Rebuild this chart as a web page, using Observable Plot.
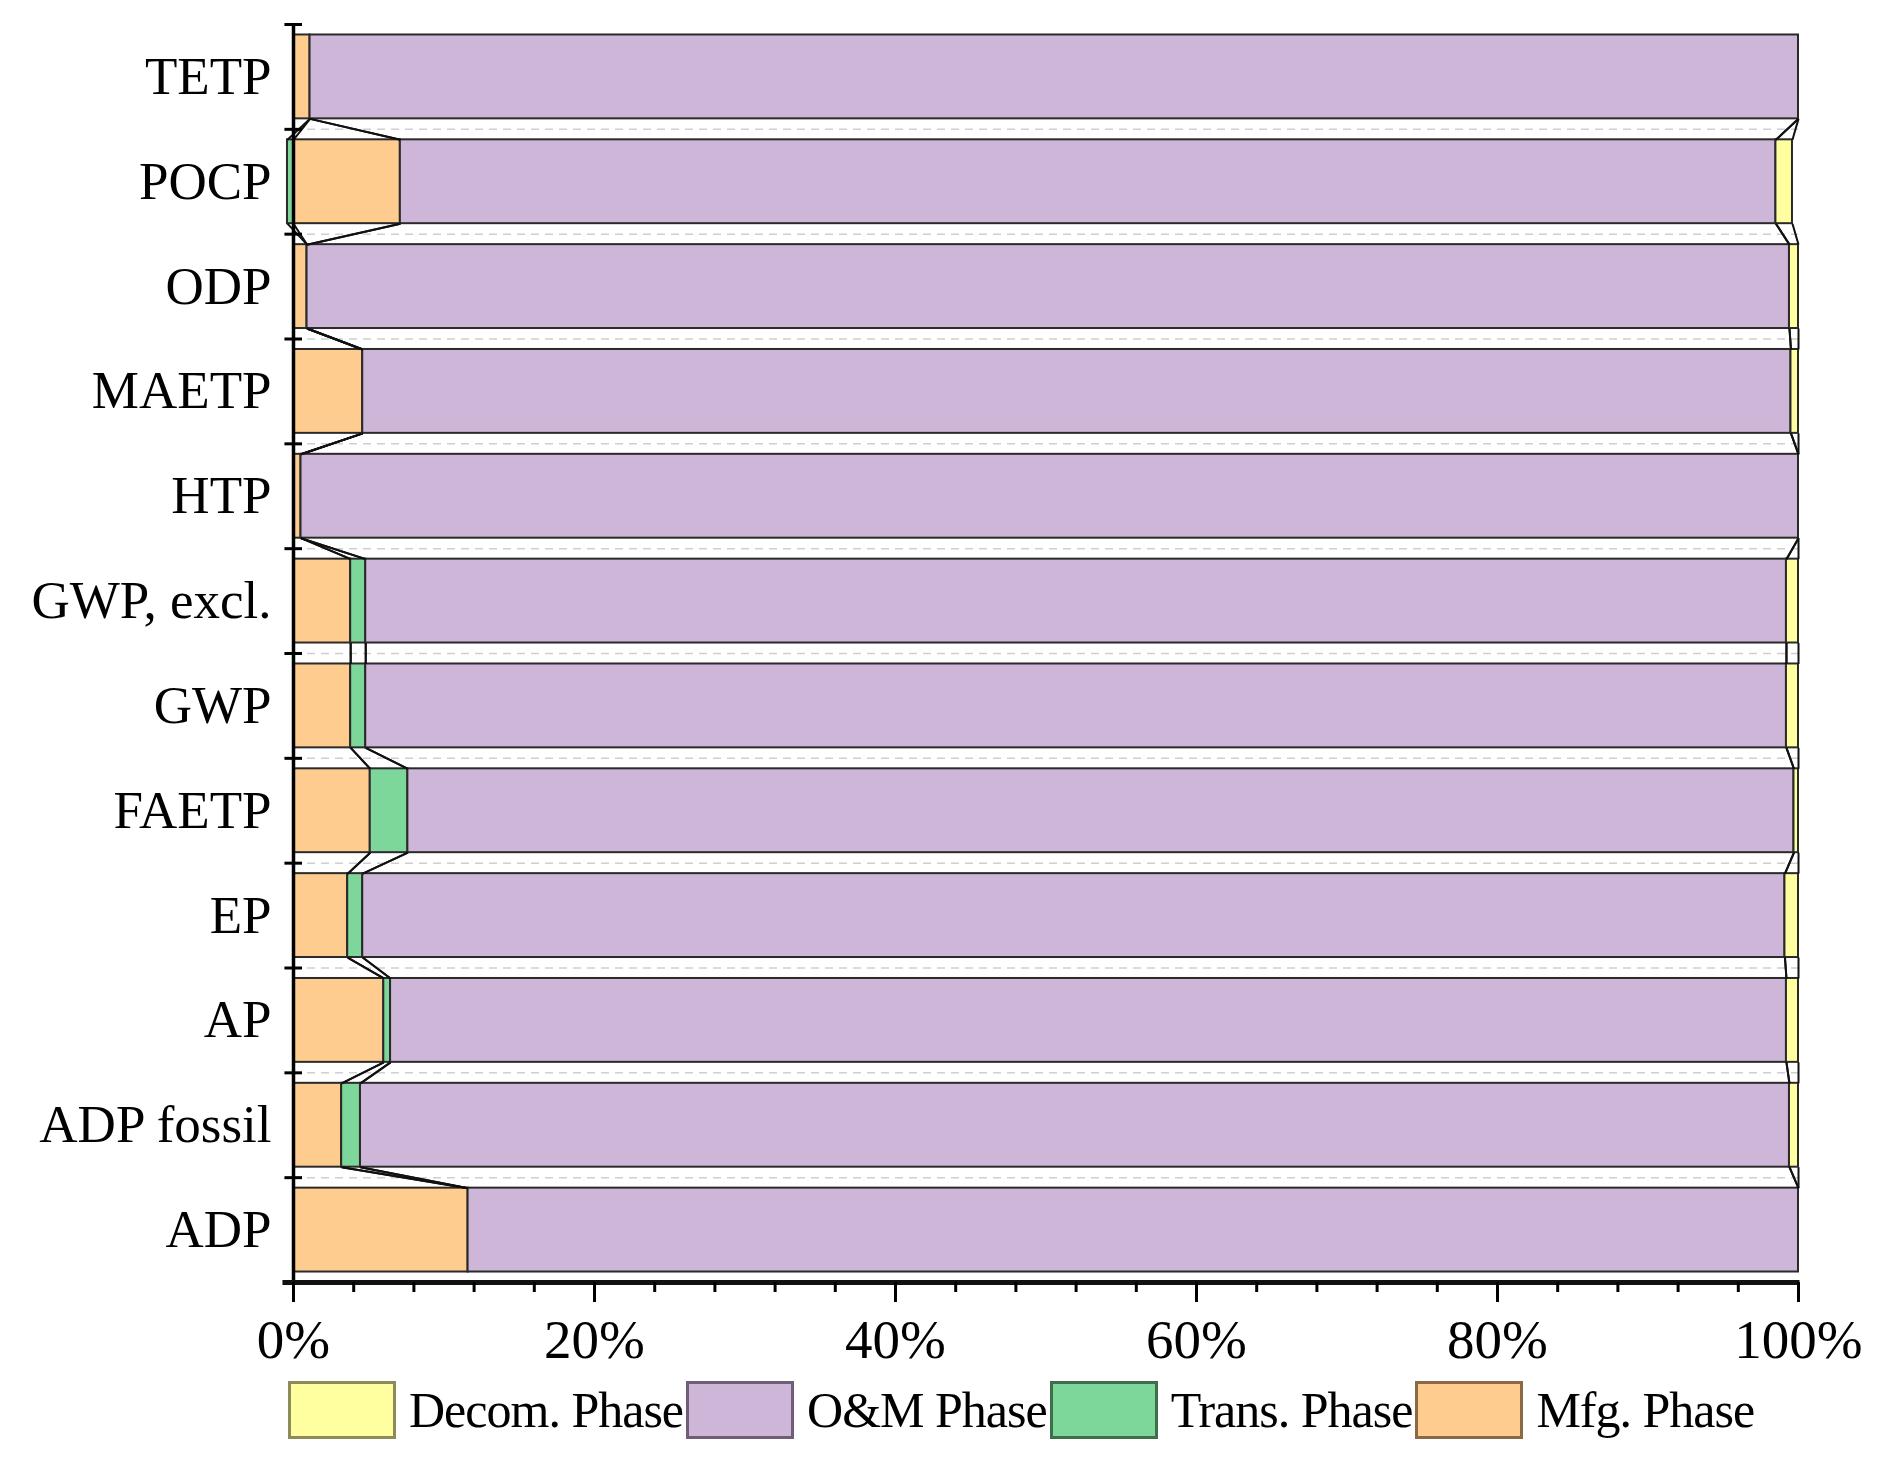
<!DOCTYPE html>
<html>
<head>
<meta charset="utf-8">
<script src="https://cdn.jsdelivr.net/npm/d3@7"></script>
<script src="https://cdn.jsdelivr.net/npm/@observablehq/plot@0.6"></script>
<style>
  html, body { margin: 0; padding: 0; background: #fff; }
  #wrap { position: relative; width: 1878px; height: 1472px; font-family: "Liberation Serif", "Times New Roman", serif; }
  #legend { position: absolute; left: 288px; top: 1381px; display: flex; align-items: center; }
  .sw { width: 108px; height: 58px; box-sizing: border-box; border: 3px solid #555; }
  .lt { font-size: 50px; line-height: 1; letter-spacing: -1px; margin-left: 13px; margin-right: 3px; color: #000; white-space: nowrap; }
</style>
</head>
<body>
<div id="wrap">
  <div id="chart"></div>
  <div id="legend"></div>
</div>
<script>
// ---- data (percent of life-cycle impact), top to bottom ----
const categories = ["TETP", "POCP", "ODP", "MAETP", "HTP", "GWP, excl.", "GWP", "FAETP", "EP", "AP", "ADP fossil", "ADP"];
const mfg   = [1.1, 7.1, 0.9, 4.6, 0.5, 3.8, 3.8, 5.1, 3.6, 6.0, 3.2, 11.6];
const trans = [0.0, -0.4, 0.0, 0.0, 0.0, 1.0, 1.0, 2.5, 1.0, 0.45, 1.25, 0.0];
const om    = [98.9, 91.4, 98.5, 94.9, 99.5, 94.4, 94.4, 92.1, 94.5, 92.75, 94.95, 88.4];
const decom = [0.0, 1.1, 0.6, 0.5, 0.0, 0.8, 0.8, 0.3, 0.9, 0.8, 0.6, 0.0];

const seriesNames = ["Mfg. Phase", "Trans. Phase", "O&M Phase", "Decom. Phase"];
const seriesValues = [mfg, trans, om, decom];
const seriesColors = ["#FFCC8F", "#7ED79A", "#CEB6D9", "#FFFF9F"];
const seriesBorders = ["#8a6a45", "#3e6e4c", "#6e5e78", "#8c8c5a"];
const legendOrder = ["Decom. Phase", "O&M Phase", "Trans. Phase", "Mfg. Phase"];
const xTicks = [0, 20, 40, 60, 80, 100];
const xMinorTicks = d3.range(0, 101, 4);

// ---- build stacked segments ----
const n = categories.length;
const pad = 0.1;
const segs = [];   // drawable rects
const edges = [];  // per category per series: {x1, x2}
categories.forEach((c, i) => {
  const k = n - 1 - i; // band [k, k+1], top category highest
  let pos = 0, neg = 0;
  edges[i] = [];
  seriesValues.forEach((vals, s) => {
    const v = vals[i];
    let x1, x2;
    if (v >= 0) { x1 = pos; x2 = pos + v; pos = x2; }
    else { x2 = neg; x1 = neg + v; neg = x1; }
    edges[i][s] = {x1, x2};
    if (v !== 0) segs.push({cat: c, series: seriesNames[s], x1, x2, y1: k + pad, y2: k + 1 - pad, fill: seriesColors[s]});
  });
});

// connector lines between adjacent bars
const links = [];
for (let i = 0; i < n - 1; i++) {
  const kU = n - 1 - i, kL = n - 2 - i;
  for (let s = 0; s < seriesNames.length; s++) {
    const a = edges[i][s], b = edges[i + 1][s];
    links.push({x1: a.x1, y1: kU + pad, x2: b.x1, y2: kL + 1 - pad});
    links.push({x1: a.x2, y1: kU + pad, x2: b.x2, y2: kL + 1 - pad});
  }
}

const bounds = d3.range(1, n);          // between bars
const tickBounds = d3.range(1, n + 1);  // y-axis boundary ticks
const centers = d3.range(0, n).map(k => k + 0.5);

const chart = Plot.plot({
  width: 1878,
  height: 1375,
  marginTop: 24,
  marginBottom: 93,
  marginLeft: 293,
  marginRight: 80,
  style: {fontFamily: "'Liberation Serif', 'Times New Roman', serif", background: "#fff", color: "#000"},
  x: {domain: [0, 100]},
  y: {domain: [0, n]},
  marks: [
    Plot.ruleY(bounds, {x1: 0, x2: 100, stroke: "#cfcfcf", strokeWidth: 1.5, strokeDasharray: "8,6"}),
    Plot.rect(segs, {x1: "x1", x2: "x2", y1: "y1", y2: "y2", fill: "fill", stroke: "#2a2a2a", strokeWidth: 2}),
    Plot.link(links, {x1: "x1", y1: "y1", x2: "x2", y2: "y2", stroke: "#111", strokeWidth: 2}),
    Plot.ruleX([0], {y1: 0, y2: n, stroke: "#000", strokeWidth: 3.5}),
    Plot.ruleY(tickBounds, {x1: -0.57, x2: 0.6, stroke: "#000", strokeWidth: 3}),
    Plot.ruleY([0], {x1: -0.7, x2: 100.1, stroke: "#111", strokeWidth: 5}),
    Plot.axisX({ticks: xMinorTicks, tickSize: 10, tickFormat: () => "", strokeWidth: 3, label: null}),
    Plot.axisX({ticks: xTicks, tickSize: 20, tickPadding: 16, tickFormat: d => d + "%", fontSize: 55, strokeWidth: 3, label: null}),
    Plot.axisY({ticks: centers, tickSize: 0, tickPadding: 22, fontSize: 53, tickFormat: v => categories[n - 1 - Math.floor(v)], label: null})
  ]
});
document.getElementById("chart").appendChild(chart);

// legend
const lg = document.getElementById("legend");
legendOrder.forEach(name => {
  const s = seriesNames.indexOf(name);
  const sw = document.createElement("div");
  sw.className = "sw";
  sw.style.background = seriesColors[s];
  sw.style.borderColor = seriesBorders[s];
  const t = document.createElement("span");
  t.className = "lt";
  t.textContent = name;
  lg.appendChild(sw);
  lg.appendChild(t);
});
</script>
</body>
</html>
